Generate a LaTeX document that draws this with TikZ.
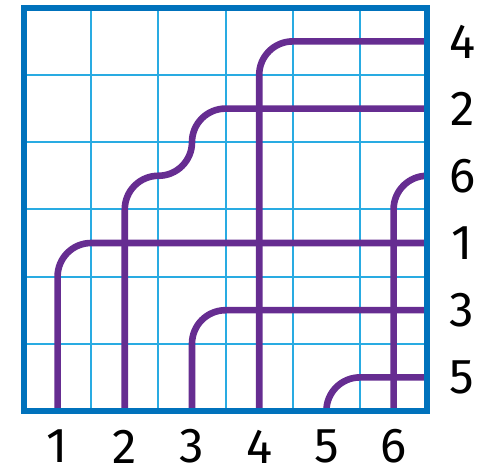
\documentclass[tikz,border=0pt]{standalone}
\usepackage{tikz}
\usetikzlibrary{positioning, calc}
\usepackage{fontspec}
\setmainfont{Fira Sans}
\usepackage{xcolor}
\definecolor{gdframe}{HTML}{0072BC}
\definecolor{gdline}{HTML}{29ABE2}
\definecolor{gdwire}{HTML}{662D91}

\begin{document}
\begin{tikzpicture}[font=\huge,
    wire/.style={draw=gdwire, line width=2.8pt, rounded corners=0.5cm},
    lbl/.style={inner sep=0pt, text=black}]
    \useasboundingbox (-0.357,-0.9375) rectangle (7.009,6.116);
    \draw[gdline, line width=0.9pt] (0,0) grid (6,6);
    % wires, bottom to right
    \draw[wire] (0.5,0) -- (0.5,2.5) -- (6,2.5);
    \draw[wire] (1.5,0) -- (1.5,3.5) -- (2.5,3.5) -- (2.5,4.5) -- (6,4.5);
    \draw[wire] (2.5,0) -- (2.5,1.5) -- (6,1.5);
    \draw[wire] (3.5,0) -- (3.5,5.5) -- (6,5.5);
    \draw[wire] (4.5,0) -- (4.5,0.5) -- (6,0.5);
    \draw[wire] (5.5,0) -- (5.5,3.5) -- (6,3.5);
    \draw[gdframe, line width=2.6pt] (0,0) rectangle (6,6);
    % labels
    \foreach \i in {1,...,6}
      \node[lbl] (bot\i) at (\i-0.5,-0.53) {\i};
    \foreach \n [count=\r] in {5,3,1,6,2,4}
      \node[lbl] (side\n) at (6.52,\r-0.5) {\n};
\end{tikzpicture}
\end{document}
